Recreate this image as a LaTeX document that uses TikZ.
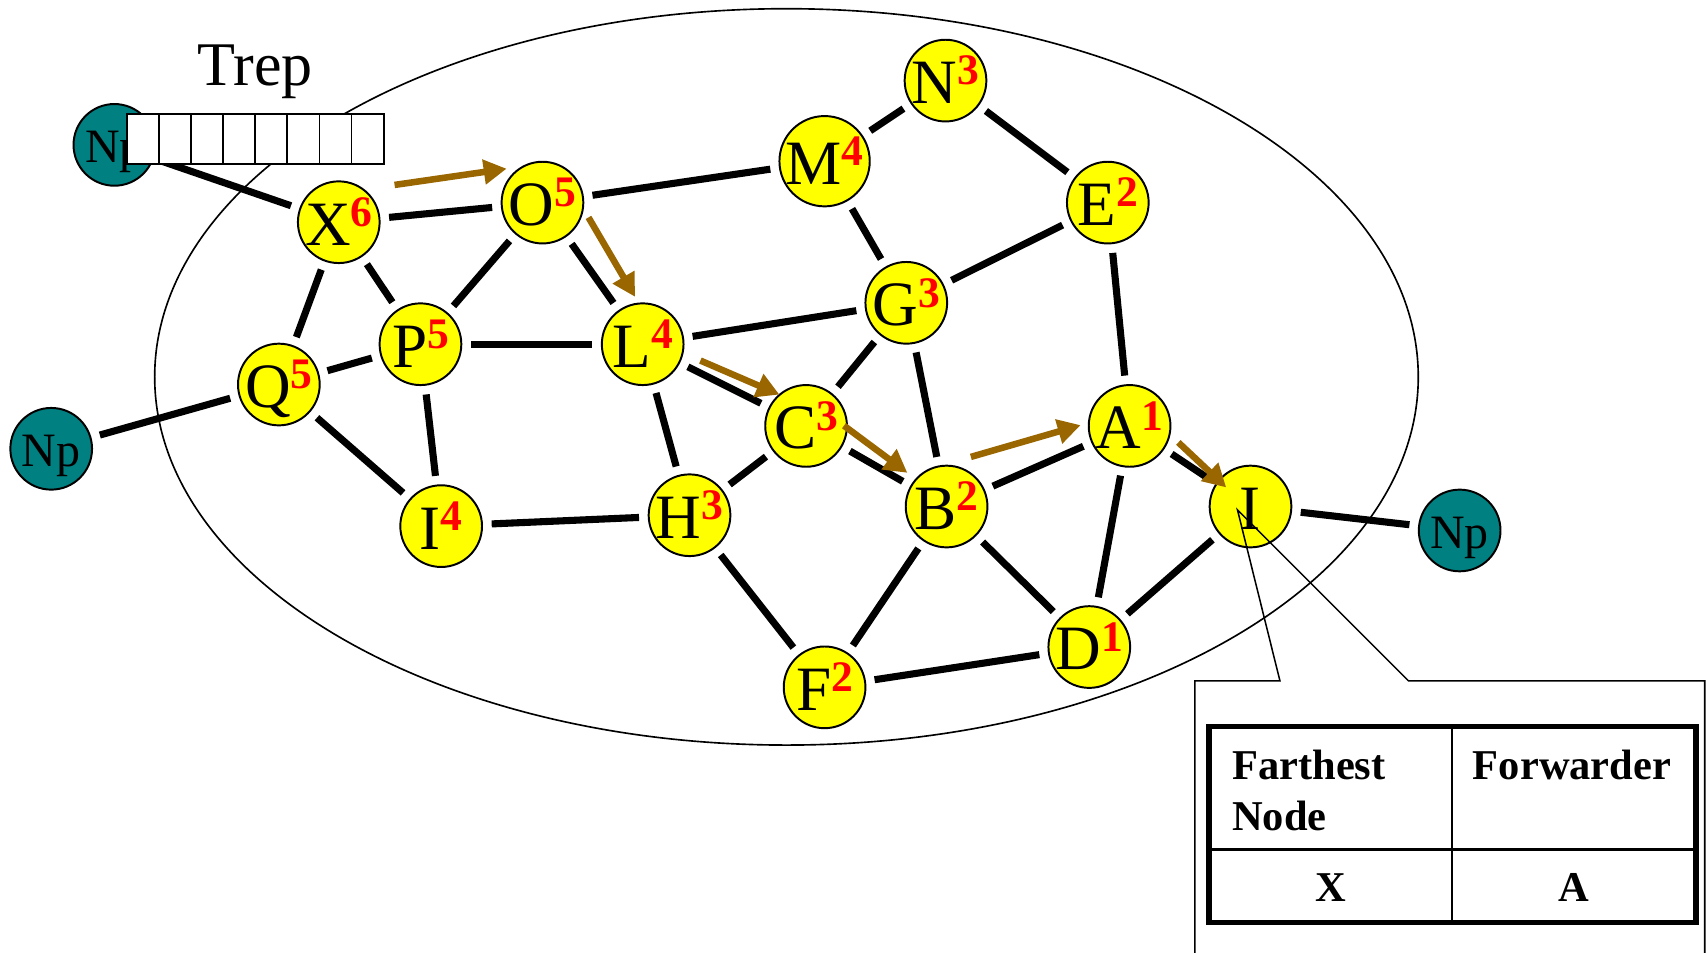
\documentclass[tikz,border=0pt]{standalone}
\usepackage{fontspec}
\setmainfont{Liberation Serif}
\usetikzlibrary{matrix,positioning,arrows.meta,calc}
\definecolor{nodeyellow}{RGB}{255,255,0}
\definecolor{npteal}{RGB}{0,128,128}
\definecolor{fwdbrown}{RGB}{153,102,0}
\newcommand{\hop}[1]{\raisebox{17pt}{\fontsize{40}{40}\selectfont\bfseries\color{red}#1}}

\begin{document}
\begin{tikzpicture}[x=1pt,y=-1pt]
\tikzset{vtx/.style={circle,draw,line width=1.8pt,fill=nodeyellow,minimum size=75pt,inner sep=0pt,
  text height=42pt,text depth=0pt,font=\fontsize{58}{58}\selectfont}}
\tikzset{npvtx/.style={vtx,fill=npteal,text height=33pt,font=\fontsize{44}{44}\selectfont}}
\tikzset{link/.style={line width=6.5pt,shorten <=8pt,shorten >=8pt}}
\tikzset{fwd/.style={draw=fwdbrown,line width=6pt,-{Triangle[length=21pt,width=22pt]}}}
\tikzset{trepcell/.style={draw,fill=white,line width=1.8pt,minimum width=29.4pt,minimum height=45.5pt,inner sep=0pt}}
\tikzset{cellhead/.style={font=\fontsize{39}{39}\selectfont\bfseries,anchor=base west,inner sep=0pt}}
\tikzset{cellval/.style={font=\fontsize{39}{39}\selectfont\bfseries,anchor=base,inner sep=0pt}}
\useasboundingbox (0,0) rectangle (1568,874);

% network region
\draw[line width=1.5pt] (722,346) ellipse [x radius=580pt, y radius=338pt];

% nodes with hop counts
\node[npvtx] (npTop) at (105,133) {Np};
\node[npvtx] (npLeft) at (47,412) {Np};
\node[npvtx] (npRight) at (1340,487) {Np};
\node[vtx] (nX) at (311,204) {X\hop{6}};
\node[vtx] (nO) at (498,186) {O\hop{5}};
\node[vtx] (nM) at (757,148) {M\hop{4}};
\node[vtx] (nN) at (868,74) {N\hop{3}};
\node[vtx] (nE) at (1017,186) {E\hop{2}};
\node[vtx] (nG) at (832,278) {G\hop{3}};
\node[vtx] (nP) at (386,316) {P\hop{5}};
\node[vtx] (nL) at (590,316) {L\hop{4}};
\node[vtx] (nQ) at (256,353) {Q\hop{5}};
\node[vtx] (nC) at (740,391) {C\hop{3}};
\node[vtx] (nA) at (1037,391) {A\hop{1}};
\node[vtx] (nB) at (869,465) {B\hop{2}};
\node[vtx] (nIf) at (405,483) {I\hop{4}};
\node[vtx] (nH) at (633,473) {H\hop{3}};
\node[vtx] (nI) at (1148,465) {I};
\node[vtx] (nD) at (1000,594) {D\hop{1}};
\node[vtx] (nF) at (757,631) {F\hop{2}};

% links
\foreach \a/\b in {npTop/nX, nX/nO, nX/nP, nX/nQ, nO/nM, nO/nP, nO/nL, nM/nN, nM/nG, nN/nE,
  nE/nG, nE/nA, nG/nL, nG/nC, nG/nB, nP/nL, nP/nQ, nP/nIf, nQ/npLeft, nQ/nIf, nL/nC, nL/nH,
  nIf/nH, nH/nC, nH/nF, nC/nB, nB/nA, nB/nF, nB/nD, nA/nI, nA/nD, nI/nD, nI/npRight, nF/nD}
  \draw[link] (\a) -- (\b);

% forwarding path
\draw[fwd] ($(nX)!0.29!(nO)+(-3,-29)$) -- ($(nX)!0.84!(nO)+(-3,-34)$);
\draw[fwd] ($(nO)!0.22!(nL)+(22,-15)$) -- ($(nO)!0.75!(nL)+(16,-11)$);
\draw[fwd] ($(nL)!0.32!(nC)+(5,-9)$) -- ($(nL)!0.79!(nC)+(7,-13)$);
\draw[fwd] ($(nC)!0.20!(nB)+(9,-15)$) -- ($(nC)!0.69!(nB)+(4,-8)$);
\draw[fwd] ($(nB)!0.21!(nA)+(-13,-30)$) -- ($(nB)!0.78!(nA)+(-8,-17)$);
\draw[fwd] ($(nA)!0.34!(nI)+(7,-10)$) -- ($(nA)!0.79!(nI)+(1,-2)$);

% Trep buffer
\matrix (trep) [matrix of nodes, nodes in empty cells, nodes={trepcell}, column sep=-1.8pt] at (234.5,127.5) {
 & & & & & & & \\
};
\node[font=\fontsize{57}{57}\selectfont,anchor=base,inner sep=0pt] (trepLabel) at ($(trep.north)+(0,-22)$) {Trep};

% callout on I
\coordinate (calloutTip) at ($(nI)+(-12,3)$);
\draw[line width=1.4pt] (1097,885) -- (1097,625) -- (1175,625) -- (calloutTip) -- (1293,625) -- (1565,625) -- (1565,885);
\draw[line width=5pt] (1110,667) rectangle (1557,847);
\draw[line width=2.4pt] (1333,667) -- (1333,847);
\draw[line width=2.4pt] (1110,780) -- (1557,780);
\node[cellhead] (hFar) at (1131,716) {Farthest};
\node[cellhead] (hNode) at (1131,762) {Node};
\node[cellhead] (hFwd) at (1352,716) {Forwarder};
\node[cellval] (vFar) at (1222,828) {X};
\node[cellval] (vFwd) at (1445,828) {A};
\end{tikzpicture}
\end{document}
